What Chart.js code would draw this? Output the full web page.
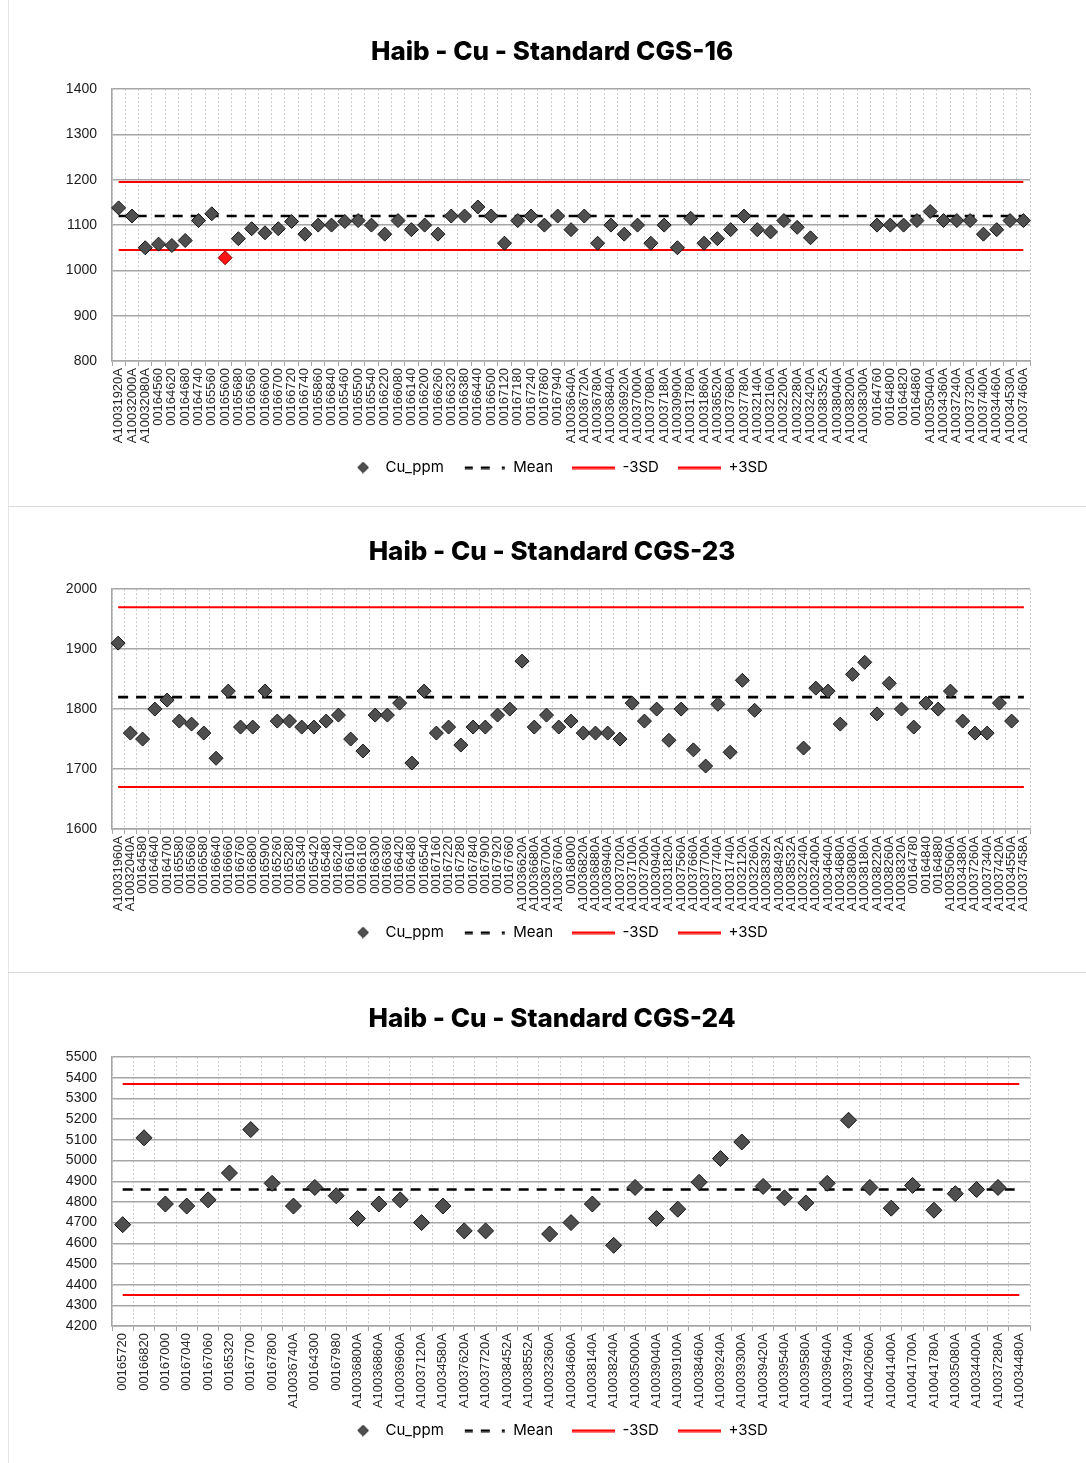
<!DOCTYPE html>
<html>
<head>
<meta charset="utf-8">
<script src="https://cdn.jsdelivr.net/npm/chart.js@4.4.1/dist/chart.umd.min.js"></script>
<style>
  body { margin: 0; background: #fff; width: 1086px; height: 1463px; position: relative; overflow: hidden; }
  .panel { position: absolute; left: 0; width: 1086px; }
  .panel canvas { display: block; }
  .sep { position: absolute; left: 8px; width: 1078px; height: 1px; background: #d9d9d9; }
  .vline { position: absolute; left: 8px; top: 0; width: 1px; height: 1463px; background: #e6e6e6; }
</style>
</head>
<body>
<div class="vline"></div>
<div class="panel" style="top:0"><canvas id="c16" width="1086" height="506"></canvas></div>
<div class="sep" style="top:506px"></div>
<div class="panel" style="top:507px"><canvas id="c23" width="1086" height="465"></canvas></div>
<div class="sep" style="top:972px"></div>
<div class="panel" style="top:973px"><canvas id="c24" width="1086" height="490"></canvas></div>

<script>
// --- CGS-16 ---
const labels16 = [
  'A10031920A', 'A10032000A', 'A10032080A', '00164560', '00164620', '00164680', '00164740', '00165560',
  '00165600', '00165680', '00166560', '00166600', '00166700', '00166720', '00166740', '00165860',
  '00166840', '00165460', '00165500', '00165540', '00166220', '00166080', '00166140', '00166200',
  '00166260', '00166320', '00166380', '00166440', '00166500', '00167120', '00167180', '00167240',
  '00167860', '00167940', 'A10036640A', 'A10036720A', 'A10036780A', 'A10036840A', 'A10036920A', 'A10037000A',
  'A10037080A', 'A10037180A', 'A10030900A', 'A10031780A', 'A10031860A', 'A10036520A', 'A10037680A', 'A10037780A',
  'A10032140A', 'A10032160A', 'A10032200A', 'A10032280A', 'A10032420A', 'A10038352A', 'A10038040A', 'A10038200A',
  'A10038300A', '00164760', '00164800', '00164820', '00164860', 'A10035040A', 'A10034360A', 'A10037240A',
  'A10037320A', 'A10037400A', 'A10034460A', 'A10034530A', 'A10037460A'
];
const cu16 = [
  1138, 1120, 1050, 1058, 1055, 1066, 1110, 1125, 1028, 1070,
  1092, 1083, 1092, 1108, 1080, 1100, 1100, 1108, 1110, 1100,
  1080, 1110, 1090, 1100, 1080, 1120, 1120, 1140, 1120, 1060,
  1110, 1120, 1100, 1120, 1090, 1120, 1060, 1100, 1080, 1100,
  1060, 1100, 1050, 1115, 1060, 1070, 1090, 1120, 1090, 1085,
  1110, 1095, 1072, null, null, null, null, 1100, 1100, 1100,
  1110, 1130, 1110, 1110, 1110, 1080, 1090, 1110, 1110
];
const limits16 = [1120, 1045, 1195];   // mean, -3SD, +3SD
const yAxis16 = [800, 1400, 100];      // min, max, step

// --- CGS-23 ---
const labels23 = [
  'A10031960A', 'A10032040A', '00164580', '00164640', '00164700', '00165580', '00165660', '00166580',
  '00166640', '00166660', '00166760', '00166800', '00165900', '00165260', '00165280', '00165340',
  '00165420', '00165480', '00166240', '00166100', '00166160', '00166300', '00166360', '00166420',
  '00166480', '00166540', '00167160', '00167220', '00167280', '00167840', '00167900', '00167920',
  '00167660', 'A10036620A', 'A10036680A', 'A10036700A', 'A10036760A', '00168000', 'A10036820A', 'A10036880A',
  'A10036940A', 'A10037020A', 'A10037100A', 'A10037200A', 'A10030940A', 'A10031820A', 'A10037560A', 'A10037660A',
  'A10037700A', 'A10037740A', 'A10031740A', 'A10032120A', 'A10032260A', 'A10038392A', 'A10038492A', 'A10038532A',
  'A10032240A', 'A10032400A', 'A10034640A', 'A10034680A', 'A10038080A', 'A10038180A', 'A10038220A', 'A10038260A',
  'A10038320A', '00164780', '00164840', '00164880', 'A10035060A', 'A10034380A', 'A10037260A', 'A10037340A',
  'A10037420A', 'A10034550A', 'A10037458A'
];
const cu23 = [
  1910, 1760, 1750, 1800, 1815, 1780, 1775, 1760, 1718, 1830,
  1770, 1770, 1830, 1780, 1780, 1770, 1770, 1780, 1790, 1750,
  1730, 1790, 1790, 1810, 1710, 1830, 1760, 1770, 1740, 1770,
  1770, 1790, 1800, 1880, 1770, 1790, 1770, 1780, 1760, 1760,
  1760, 1750, 1810, 1780, 1800, 1748, 1800, 1732, 1705, 1808,
  1728, 1848, 1798, null, null, null, 1735, 1835, 1830, 1775,
  1858, 1878, 1792, 1843, 1800, 1770, 1810, 1800, 1830, 1780,
  1760, 1760, 1810, 1780, null
];
const limits23 = [1820, 1670, 1970];
const yAxis23 = [1600, 2000, 100];

// --- CGS-24 ---
const labels24 = [
  '00165720', '00166820', '00167000', '00167040', '00167060', '00165320', '00167700', '00167800',
  'A10036740A', '00164300', '00167980', 'A10036800A', 'A10036860A', 'A10036960A', 'A10037120A', 'A10034580A',
  'A10037620A', 'A10037720A', 'A10038452A', 'A10038552A', 'A10032360A', 'A10034660A', 'A10038140A', 'A10038240A',
  'A10035000A', 'A10039040A', 'A10039100A', 'A10038460A', 'A10039240A', 'A10039300A', 'A10039420A', 'A10039540A',
  'A10039580A', 'A10039640A', 'A10039740A', 'A10042060A', 'A10041400A', 'A10041700A', 'A10041780A', 'A10035080A',
  'A10034400A', 'A10037280A', 'A10034480A'
];
const cu24 = [
  4690, 5110, 4790, 4780, 4810, 4940, 5150, 4890, 4780, 4870,
  4830, 4720, 4790, 4810, 4700, 4780, 4660, 4660, null, null,
  4645, 4700, 4790, 4590, 4870, 4720, 4765, 4895, 5010, 5090,
  4875, 4820, 4795, 4890, 5195, 4870, 4770, 4880, 4760, 4840,
  4860, 4870, null
];
const limits24 = [4860, 4350, 5370];
const yAxis24 = [4200, 5500, 100];

Chart.defaults.font.family = "'Liberation Sans', Arial, sans-serif";

function diamondIcon() {
  // diamond sits right of the icon centre so it lands closer to its text
  const c = document.createElement('canvas');
  c.width = 24; c.height = 12;
  const g = c.getContext('2d');
  g.beginPath();
  g.moveTo(18, 0.7); g.lineTo(23.3, 6); g.lineTo(18, 11.3); g.lineTo(12.7, 6);
  g.closePath();
  g.fillStyle = '#4f4f4f'; g.fill();
  g.strokeStyle = '#111'; g.lineWidth = 1; g.stroke();
  return c;
}

function lineIcon(color, segs) {
  const c = document.createElement('canvas');
  c.width = 44; c.height = 4;
  const g = c.getContext('2d');
  g.fillStyle = color;
  segs.forEach(s => g.fillRect(s[0], 1, s[1] - s[0], 2.5));
  return c;
}

const legendIcons = [
  diamondIcon(),
  lineIcon('#000', [[2, 10], [18, 27], [39, 42]]),
  lineIcon('#ff0000', [[0, 43]]),
  lineIcon('#ff0000', [[0, 43]])
];
const legendNames = ['Cu_ppm', 'Mean', '-3SD', '+3SD'];

// labels may overhang their axis box, as in the original; skip Chart.js's label clipping
const noLabelClip = s => { s._computeLabelArea = () => null; };

function makeChart(id, title, labels, values, limits, yAxis, o) {
  const [mean, low, high] = limits;
  const ctx = document.getElementById(id).getContext('2d');
  return new Chart(ctx, {
    type: 'line',
    data: {
      labels: labels,
      datasets: [
        {
          label: 'Cu_ppm',
          data: values,
          showLine: false,
          pointStyle: 'rectRot',
          pointRadius: o.radius,
          pointHoverRadius: o.radius,
          pointBackgroundColor: values.map(v => v != null && v < low ? '#ff1414' : '#4f4f4f'),
          pointBorderColor: values.map(v => v != null && v < low ? '#8a0000' : '#151515'),
          pointBorderWidth: 1,
          order: 0
        },
        {
          label: 'Mean',
          data: labels.map(() => mean),
          borderColor: '#000',
          borderWidth: 2.6,
          borderDash: [10, 8],
          pointRadius: 0,
          order: 1
        },
        {
          label: '-3SD',
          data: labels.map(() => low),
          borderColor: '#ff0000',
          borderWidth: 2,
          pointRadius: 0,
          order: 2
        },
        {
          label: '+3SD',
          data: labels.map(() => high),
          borderColor: '#ff0000',
          borderWidth: 2,
          pointRadius: 0,
          order: 3
        }
      ]
    },
    options: {
      responsive: false,
      animation: false,
      layout: { padding: { top: 10, left: 74, right: 56, bottom: o.padBottom } },
      scales: {
        x: {
          offset: true,
          ticks: {
            autoSkip: false, maxRotation: 90, minRotation: 90, padding: 2,
            color: '#262626', font: { size: 13 }
          },
          grid: {
            offset: true, color: '#cccccc', lineWidth: 1,
            tickColor: '#a6a6a6', tickLength: 5, tickBorderDash: []
          },
          border: { color: '#a6a6a6', width: 1.5, dash: [2, 2] },
          afterFit: s => { s.height = o.xHeight; noLabelClip(s); }
        },
        y: {
          min: yAxis[0],
          max: yAxis[1],
          ticks: {
            stepSize: yAxis[2], padding: 15, color: '#1a1a1a', font: { size: 14 },
            callback: v => String(v)
          },
          grid: { color: '#a6a6a6', lineWidth: 1.5, drawTicks: false },
          border: { color: '#a6a6a6', width: 1.5 },
          afterFit: s => { s.width = 38; noLabelClip(s); }
        }
      },
      plugins: {
        title: {
          display: true,
          text: title,
          color: '#000',
          font: { family: 'Inter', size: 26, weight: '800' },
          padding: { top: o.titleTop, bottom: o.titleBottom }
        },
        legend: {
          position: 'bottom',
          labels: {
            usePointStyle: true,
            pointStyleWidth: 42,
            boxHeight: 12,
            padding: 20,
            color: '#404040',
            font: { family: 'Inter', size: 15 },
            generateLabels: () => legendNames.map((n, i) => ({
              text: n,
              pointStyle: legendIcons[i],
              datasetIndex: i,
              fillStyle: 'transparent',
              strokeStyle: 'transparent',
              lineWidth: 0,
              hidden: false
            }))
          }
        },
        tooltip: { enabled: false }
      }
    }
  });
}

makeChart('c16', 'Haib - Cu - Standard CGS-16', labels16, cu16, limits16, yAxis16,
  { radius: 7, titleTop: 27, titleBottom: 21, padBottom: 21, xHeight: 79 });
makeChart('c23', 'Haib - Cu - Standard CGS-23', labels23, cu23, limits23, yAxis23,
  { radius: 7, titleTop: 20, titleBottom: 21, padBottom: 22, xHeight: 76 });
makeChart('c24', 'Haib - Cu - Standard CGS-24', labels24, cu24, limits24, yAxis24,
  { radius: 8, titleTop: 21, titleBottom: 22, padBottom: 15, xHeight: 77 });
</script>
</body>
</html>
